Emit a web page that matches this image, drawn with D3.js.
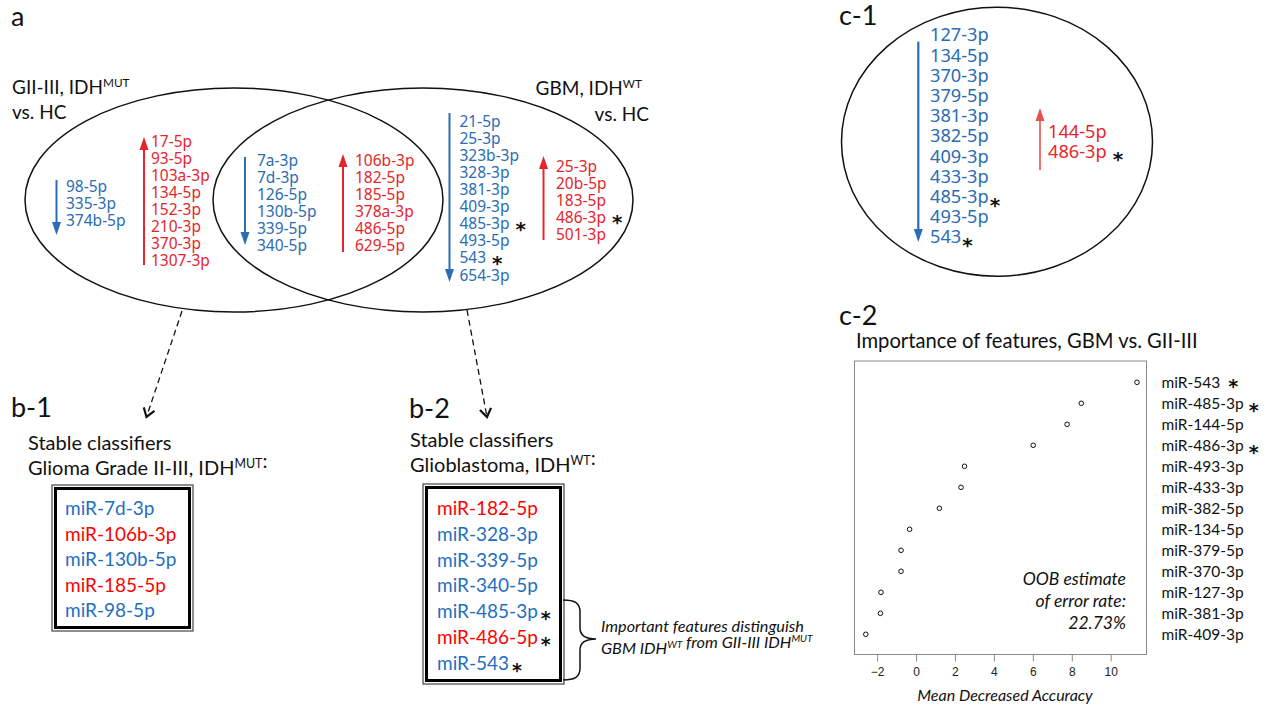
<!DOCTYPE html>
<html>
<head>
<meta charset="utf-8">
<script src="https://cdn.jsdelivr.net/npm/d3@7"></script>
<style>
body{margin:0;background:#fff}
svg{display:block}
text{font-family:Lato,"Open Sans",sans-serif;fill:#111}
.num{font-family:"Noto Sans",sans-serif}
</style>
</head>
<body>
<svg width="1266" height="705"></svg>
<script>
// panel a: venn lists (down = blue, up = red), "*" marks important features
var leftDown=["98-5p","335-3p","374b-5p"];
var leftUp=["17-5p","93-5p","103a-3p","134-5p","152-3p","210-3p","370-3p","1307-3p"];
var sharedDown=["7a-3p","7d-3p","126-5p","130b-5p","339-5p","340-5p"];
var sharedUp=["106b-3p","182-5p","185-5p","378a-3p","486-5p","629-5p"];
var rightDown=["21-5p","25-3p","323b-3p","328-3p","381-3p","409-3p","485-3p*","493-5p","543*","654-3p"];
var rightUp=["25-3p","20b-5p","183-5p","486-3p*","501-3p"];

// panel b: stable classifiers
var b1Names=["miR-7d-3p","miR-106b-3p","miR-130b-5p","miR-185-5p","miR-98-5p"];
var b1Dir=["down","up","down","up","down"];
var b2Names=["miR-182-5p","miR-328-3p","miR-339-5p","miR-340-5p","miR-485-3p*","miR-486-5p*","miR-543*"];
var b2Dir=["up","down","down","down","down","up","down"];

// panel c-1
var c1Down=["127-3p","134-5p","370-3p","379-5p","381-3p","382-5p","409-3p","433-3p","485-3p*","493-5p","543*"];
var c1Up=["144-5p","486-3p*"];

// panel c-2: importance of features
var features=["miR-543","miR-485-3p","miR-144-5p","miR-486-3p","miR-493-3p","miR-433-3p","miR-382-5p","miR-134-5p","miR-379-5p","miR-370-3p","miR-127-3p","miR-381-3p","miR-409-3p"];
var accuracy=[11.35,8.49,7.76,6.02,2.49,2.31,1.2,-0.33,-0.77,-0.77,-1.8,-1.83,-2.58];
var starred=["miR-543","miR-485-3p","miR-486-3p"];
var xTicks=[-2,0,2,4,6,8,10];

var blue="#2b6cb3", red="#e4262c";
var boxBlue="#1f6fbf", boxRed="#ff0000";

var svg=d3.select("svg");

function star(x,yc,size,dx)
{
	svg.append("text")
	.attr("x",x+dx)
	.attr("y",yc+size*0.56)
	.style("font-family","DejaVu Sans")
	.style("font-weight","bold")
	.style("font-size",size+"px")
	.style("fill","#111")
	.text("*");
}

function arrow(x,yFrom,yTo,color,w)
{
	var dir=yTo>yFrom?1:-1;
	svg.append("line")
	.attr("x1",x).attr("x2",x)
	.attr("y1",yFrom).attr("y2",yTo-dir*10)
	.attr("stroke",color)
	.attr("stroke-width",w);
	svg.append("path")
	.attr("d","M"+(x-4.5)+","+(yTo-dir*13)+"L"+(x+4.5)+","+(yTo-dir*13)+"L"+x+","+yTo+"Z")
	.attr("fill",color);
}

function mirList(items,x,yFirst,step,color,size,starGap,starDy,starSize)
{
	var y=d3.scaleLinear().domain([0,items.length-1]).range([yFirst,yFirst+step*(items.length-1)]);
	items.forEach(function(s,i){
		var isStar=s.slice(-1)=="*";
		var name=isStar?s.slice(0,-1):s;
		var t=svg.append("text")
		.attr("class","num")
		.attr("x",x)
		.attr("y",y(i)+size*0.357)
		.style("font-size",size+"px")
		.style("fill",color)
		.text(name);
		if(isStar)
			star(x+t.node().getComputedTextLength(),y(i)+starDy,starSize,starGap);
	});
}

function label(x,y,size,parts,anchor,italic)
{
	var t=svg.append("text")
	.attr("x",x).attr("y",y)
	.style("font-size",size+"px")
	.attr("text-anchor",anchor||"start")
	.style("font-style",italic?"italic":"normal");
	parts.forEach(function(p){
		if(typeof p=="string")
			t.append("tspan").text(p);
		else
			t.append("tspan").attr("dy",-size*0.36).style("font-size",(size*0.62)+"px").text(p.sup)
			.select(function(){return this.parentNode;})
			.append("tspan").attr("dy",size*0.36).text("");
	});
	return t;
}

// ---------- panel a ----------
label(11,26,27,["a"]);
svg.append("ellipse").attr("cx",234).attr("cy",200).attr("rx",209).attr("ry",112)
.attr("fill","none").attr("stroke","#111").attr("stroke-width",1.5);
svg.append("ellipse").attr("cx",423).attr("cy",200).attr("rx",210).attr("ry",112)
.attr("fill","none").attr("stroke","#111").attr("stroke-width",1.5);

label(12,94,19,["GII-III, IDH",{sup:"MUT"}]);
label(12,119,19,["vs. HC"]);
label(642,95,19,["GBM, IDH",{sup:"WT"}],"end");
label(649,121,19,["vs. HC"],"end");

arrow(56.5,180,235,blue,2);
mirList(leftDown,66,186.7,17,blue,15.5,6,0,20);
arrow(144,265,137,red,2);
mirList(leftUp,151,141.7,17,red,15.5,6,0,20);
arrow(245,157,245,blue,2);
mirList(sharedDown,257,160,17,blue,15.5,6,0,20);
arrow(343,252,154,red,2);
mirList(sharedUp,355,160,17,red,15.5,6,0,20);
arrow(449.5,113,282,blue,2);
mirList(rightDown,459.5,121.7,17.03,blue,15.5,6,1,20);
arrow(543.5,240,156,red,2);
mirList(rightUp,556,166,17,red,15.5,6,1,20);

// dashed arrows to panel b
function dashed(x1,y1,x2,y2)
{
	svg.append("line").attr("x1",x1).attr("y1",y1).attr("x2",x2).attr("y2",y2)
	.attr("stroke","#111").attr("stroke-width",1.3).attr("stroke-dasharray","6,4");
	var a=Math.atan2(y2-y1,x2-x1), l=10;
	svg.append("path")
	.attr("d","M"+(x2-l*Math.cos(a-0.6))+","+(y2-l*Math.sin(a-0.6))+"L"+x2+","+y2+"L"+(x2-l*Math.cos(a+0.6))+","+(y2-l*Math.sin(a+0.6)))
	.attr("fill","none").attr("stroke","#111").attr("stroke-width",2.2);
}
dashed(182,311,146.5,417);
dashed(467,310,487,417);

// ---------- panel b ----------
function classifierBox(x,y,w,h,names,dirs,tx,yFirst,step)
{
	svg.append("rect").attr("x",x).attr("y",y).attr("width",w).attr("height",h)
	.attr("fill","none").attr("stroke","#444").attr("stroke-width",1.2);
	svg.append("rect").attr("x",x+3.5).attr("y",y+3.5).attr("width",w-7).attr("height",h-7)
	.attr("fill","none").attr("stroke","#000").attr("stroke-width",3);
	var ys=d3.scaleLinear().domain([0,names.length-1]).range([yFirst,yFirst+step*(names.length-1)]);
	names.forEach(function(s,i){
		var isStar=s.slice(-1)=="*";
		var t=svg.append("text").attr("x",tx).attr("y",ys(i)+7)
		.style("font-size","19px")
		.style("fill",dirs[i]=="up"?boxRed:boxBlue)
		.text(isStar?s.slice(0,-1):s);
		if(isStar)
			star(tx+t.node().getComputedTextLength(),ys(i)+3,19,3);
	});
}

label(11,417,27,["b-1"]);
label(28,450,20,["Stable classifiers"]);
label(28,475,20,["Glioma Grade II-III, IDH",{sup:"MUT"},":"]);
classifierBox(52,485,141,146,b1Names,b1Dir,65,508.3,25.4);

label(409,418,27,["b-2"]);
label(410,447,20,["Stable classifiers"]);
label(410,472,20,["Glioblastoma, IDH",{sup:"WT"},":"]);
classifierBox(423,484,141,200,b2Names,b2Dir,437,507.7,25.9);

svg.append("path")
.attr("d","M563,600 C575,600 580,603 580,612 L580,628 C580,636 586,639 596,639 C586,639 580,642 580,650 L580,668 C580,677 575,680 563,680")
.attr("fill","none").attr("stroke","#111").attr("stroke-width",1.5);
label(601,632,16.3,["Important features distinguish"],"start",true);
label(601,654,16.3,["GBM IDH",{sup:"WT"}," from GII-III IDH",{sup:"MUT"}],"start",true);

// ---------- panel c-1 ----------
label(839,25,27,["c-1"]);
svg.append("ellipse").attr("cx",997).attr("cy",141.7).attr("rx",155.5).attr("ry",134.5)
.attr("fill","none").attr("stroke","#111").attr("stroke-width",1.5);
arrow(918.3,41.7,242,blue,2.2);
mirList(c1Down,930,35,20.2,blue,18.2,1,4,20);
arrow(1040,170,108,"#e8504c",1.6);
mirList(c1Up,1048,131.7,20,red,18.2,6,3,20);

// ---------- panel c-2 ----------
label(839,325,27,["c-2"]);
label(856,348,20.2,["Importance of features, GBM vs. GII-III"]);

var x=d3.scaleLinear().domain([-2,10]).range([877.1,1110.7]);
var y=d3.scalePoint().domain(features).range([382.3,634.3]);

svg.append("rect").attr("x",854.5).attr("y",361).attr("width",292).attr("height",293.5)
.attr("fill","none").attr("stroke","#8a8a8a").attr("stroke-width",1);

var xaxis=d3.axisBottom(x).tickValues(xTicks).tickSize(7).tickPadding(6).tickSizeOuter(0);
var ax=svg.append("g").attr("transform","translate(0,654.5)").call(xaxis);
ax.select(".domain").remove();
ax.selectAll("line").attr("stroke","#8a8a8a");
ax.selectAll("text").style("font-family","Liberation Sans").style("font-size","12px").style("fill","#222");

svg.selectAll("circle.pt")
.data(features)
.enter()
.append("circle")
.attr("class","pt")
.attr("cx",function(d,i){return x(accuracy[i]);})
.attr("cy",function(d){return y(d);})
.attr("r",2.3)
.attr("fill","none")
.attr("stroke","#111")
.attr("stroke-width",1);

features.forEach(function(f){
	var t=svg.append("text").attr("x",1161.5).attr("y",y(f)+5.5)
	.style("font-size","15.5px").text(f);
	if(starred.indexOf(f)>=0)
		star(1161.5+t.node().getComputedTextLength(),y(f)+(f=="miR-543"?0:3),19,f=="miR-543"?8:5);
});

label(1126,585,17.5,["OOB estimate"],"end",true);
label(1126,607,17.5,["of error rate:"],"end",true);
label(1126,629,17.5,["22.73%"],"end",true);
label(1005,701,16,["Mean Decreased Accuracy"],"middle",true);
</script>
</body>
</html>
